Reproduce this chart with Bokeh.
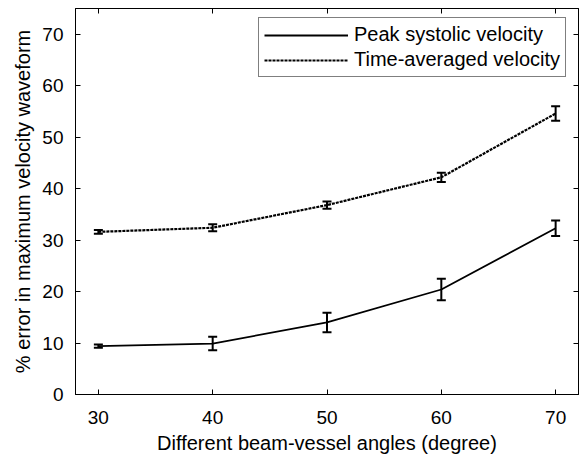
from bokeh.plotting import figure
from bokeh.models import (ColumnDataSource, Range1d, LinearAxis, FixedTicker,
                          Whisker, TeeHead, Legend, LegendItem, CustomLabelingPolicy)
from bokeh.embed import file_html
from bokeh.resources import INLINE

angles = [30, 40, 50, 60, 70]
peak_systolic = [9.4, 9.9, 14.0, 20.4, 32.3]
peak_err = [0.3, 1.3, 1.9, 2.1, 1.5]
time_averaged = [31.6, 32.4, 36.8, 42.2, 54.6]
time_err = [0.35, 0.7, 0.7, 0.9, 1.4]
x_ticks = [30, 40, 50, 60, 70]
y_ticks = [0, 10, 20, 30, 40, 50, 60, 70]

FONT = "Liberation Sans"

p = figure(width=580, height=460, output_backend="svg", toolbar_location=None,
           x_range=Range1d(28, 72), y_range=Range1d(0, 75),
           min_border_left=75, min_border_right=2, min_border_top=8,
           min_border_bottom=66)
p.background_fill_color = "white"
p.border_fill_color = "white"
p.outline_line_color = "black"
p.outline_line_width = 1
p.xgrid.grid_line_color = None
p.ygrid.grid_line_color = None

def style_axis(ax, ticks, show_labels=True):
    ax.ticker = FixedTicker(ticks=ticks)
    ax.major_tick_in = 5
    ax.major_tick_out = 0
    ax.minor_tick_line_color = None
    ax.axis_line_color = "black"
    ax.major_tick_line_color = "black"
    ax.major_label_text_font = FONT
    ax.major_label_text_color = "black"
    if show_labels:
        ax.major_label_text_font_size = "19px"
    else:
        ax.major_label_text_font_size = "0px"
        ax.major_label_policy = CustomLabelingPolicy(
            code="for (const i of Array.from(indices)) { indices.unset(i) }\nreturn indices")
        ax.major_label_standoff = 0

style_axis(p.xaxis[0], x_ticks)
style_axis(p.yaxis[0], y_ticks)
p.xaxis[0].major_label_standoff = 16
p.yaxis[0].major_label_standoff = 12
p.xaxis.axis_label = "Different beam-vessel angles (degree)"
p.yaxis.axis_label = "% error in maximum velocity waveform"
for ax in (p.xaxis[0], p.yaxis[0]):
    ax.axis_label_text_font = FONT
    ax.axis_label_text_font_size = "20px"
    ax.axis_label_text_font_style = "normal"
    ax.axis_label_text_color = "black"
p.xaxis[0].axis_label_standoff = 5
p.yaxis[0].axis_label_standoff = 5

top_ax = LinearAxis()
style_axis(top_ax, x_ticks, show_labels=False)
p.add_layout(top_ax, "above")
right_ax = LinearAxis()
style_axis(right_ax, y_ticks, show_labels=False)
p.add_layout(right_ax, "right")

src = ColumnDataSource(dict(
    x=angles,
    ps=peak_systolic,
    ps_lo=[v - e for v, e in zip(peak_systolic, peak_err)],
    ps_hi=[v + e for v, e in zip(peak_systolic, peak_err)],
    ta=time_averaged,
    ta_lo=[v - e for v, e in zip(time_averaged, time_err)],
    ta_hi=[v + e for v, e in zip(time_averaged, time_err)],
))

r_ps = p.line("x", "ps", source=src, line_color="black", line_width=1.8)
r_ta = p.line("x", "ta", source=src, line_color="black", line_width=2.2,
              line_dash="3 1")

for lo, hi in (("ps_lo", "ps_hi"), ("ta_lo", "ta_hi")):
    w = Whisker(source=src, base="x", lower=lo, upper=hi,
                line_color="black", line_width=2,
                upper_head=TeeHead(size=9, line_color="black", line_width=2),
                lower_head=TeeHead(size=9, line_color="black", line_width=2))
    p.add_layout(w)

legend = Legend(items=[LegendItem(label="Peak systolic velocity", renderers=[r_ps]),
                       LegendItem(label="Time-averaged velocity", renderers=[r_ta])],
                location=(183, 317), margin=0,
                glyph_width=84, glyph_height=20, label_height=20,
                label_standoff=6, spacing=2, padding=5,
                border_line_color="black", border_line_width=1,
                background_fill_color="white", background_fill_alpha=1,
                label_text_font=FONT, label_text_font_size="20px",
                label_text_color="black")
p.add_layout(legend, "center")

open("out.html", "w").write(file_html(p, INLINE))
